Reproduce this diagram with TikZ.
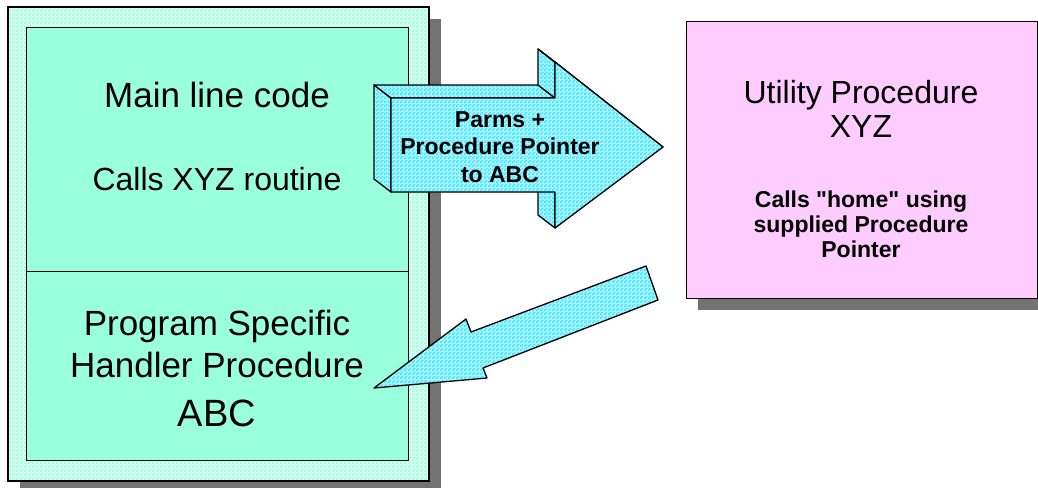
\documentclass[tikz,border=0pt]{standalone}
\usepackage{fontspec}
\setmainfont{Liberation Sans}
\usetikzlibrary{patterns,shadows}

% fine two-colour checker used for the dithered fills
\pgfdeclarepatternformonly{finechecker}{\pgfqpoint{0pt}{0pt}}{\pgfqpoint{4pt}{4pt}}{\pgfqpoint{4pt}{4pt}}{%
  \pgfpathrectangle{\pgfqpoint{0pt}{0pt}}{\pgfqpoint{2pt}{2pt}}%
  \pgfpathrectangle{\pgfqpoint{2pt}{2pt}}{\pgfqpoint{2pt}{2pt}}%
  \pgfusepath{fill}}

\definecolor{mint}{RGB}{153,255,220}
\definecolor{skycyan}{RGB}{51,230,255}
\definecolor{lilac}{RGB}{255,204,255}
\definecolor{shade}{RGB}{115,115,115}

\tikzset{
  boxshadow/.style={drop shadow={shadow xshift=12pt, shadow yshift=-12pt, fill=shade, opacity=1}},
  outerband/.style={boxshadow, preaction={fill=mint!40}, pattern=finechecker, pattern color=mint,
    draw=black, line width=2.5pt, inner sep=0pt},
  innerpanel/.style={draw=black, line width=1pt, fill=mint, inner sep=0pt},
  utilbox/.style={boxshadow, draw=black, line width=1pt, fill=lilac, inner sep=0pt},
  cyanface/.style={preaction={fill=skycyan!40}, pattern=finechecker, pattern color=skycyan,
    draw=black, line width=1.3pt, line join=round},
  shadefill/.style={fill=shade, draw=none},
  txtL/.style={anchor=base, inner sep=0pt, font=\fontsize{35}{40}\selectfont},
  txtM/.style={anchor=base, inner sep=0pt, font=\fontsize{32}{37}\selectfont},
  txtXL/.style={anchor=base, inner sep=0pt, font=\fontsize{38}{44}\selectfont},
  txtB/.style={anchor=base, inner sep=0pt, font=\fontsize{23}{27}\selectfont\bfseries},
}

\begin{document}
\begin{tikzpicture}[x=1pt,y=-1pt]
\useasboundingbox (0,0) rectangle (1038,487);

% ---- calling program ----
\node[outerband, minimum width=421pt, minimum height=474pt] (caller) at (218.5,244) {};
\node[innerpanel, minimum width=382pt, minimum height=243pt] (mainpart) at (217,149.5) {};
\node[innerpanel, minimum width=382pt, minimum height=189pt] (handler) at (217,365.5) {};

\node[txtL] (mainline) at (217,107) {Main line code};
\node[txtM] (callsxyz) at (217,190) {Calls XYZ routine};
\node[txtL] (progspec) at (217,335) {Program Specific};
\node[txtL] (handproc) at (217,377) {Handler Procedure};
\node[txtXL] (abc) at (217,426) {ABC};

% ---- utility procedure ----
\node[utilbox, minimum width=351pt, minimum height=276pt] (utility) at (861.5,160) {};
\node[txtM] (utiltitle) at (861,103) {Utility Procedure};
\node[txtM] (utilxyz) at (861,137) {XYZ};
\node[txtB] (home1) at (861,207) {Calls \textquotedbl home\textquotedbl\ using};
\node[txtB] (home2) at (861,232) {supplied Procedure};
\node[txtB] (home3) at (861,257) {Pointer};

% ---- outgoing 3D block arrow ----
% front face
\coordinate (F1) at (391,98);  \coordinate (F2) at (555,98);
\coordinate (F3) at (555,62);  \coordinate (F4) at (663,147);
\coordinate (F5) at (555,228); \coordinate (F6) at (555,192);
\coordinate (F7) at (391,192);
% back face (extruded up and to the left)
\coordinate (B1) at (374,85);  \coordinate (B2) at (538,85);
\coordinate (B3) at (538,49);  \coordinate (B4) at (646,134);
\coordinate (B5) at (538,215); \coordinate (B6) at (538,179);
\coordinate (B7) at (374,179);
\coordinate (BX) at (538,192);

\fill[shadefill, shift={(12,12)}]
  (B1) -- (B2) -- (B3) -- (B4) -- (F4) -- (F5) -- (B5) -- (BX) -- (F7) -- (B7) -- cycle;
\path[cyanface] (B1) -- (F1) -- (F7) -- (B7) -- cycle;
\path[cyanface] (B1) -- (B2) -- (F2) -- (F1) -- cycle;
\path[cyanface] (B2) -- (B3) -- (F3) -- (F2) -- cycle;
\path[cyanface] (B3) -- (B4) -- (F4) -- (F3) -- cycle;
\path[cyanface] (B6) -- (B5) -- (F5) -- (F6) -- cycle;
\path[cyanface] (F1) -- (F2) -- (F3) -- (F4) -- (F5) -- (F6) -- (F7) -- cycle;

\node[txtB] (parms1) at (500,127) {Parms +};
\node[txtB] (parms2) at (500,154) {Procedure Pointer};
\node[txtB] (parms3) at (500,182) {to ABC};

% ---- returning flat arrow ----
\coordinate (T)  at (374,388);
\coordinate (UB) at (466,319);
\coordinate (UN) at (471,332);
\coordinate (US) at (646,266);
\coordinate (LS) at (658,300);
\coordinate (LN) at (483,368);
\coordinate (LB) at (487,378);

\fill[shadefill, shift={(12,12)}]
  (T) -- (UB) -- (UN) -- (US) -- (LS) -- (LN) -- (LB) -- cycle;
\path[cyanface] (T) -- (UB) -- (UN) -- (US) -- (LS) -- (LN) -- (LB) -- cycle;

\end{tikzpicture}
\end{document}
